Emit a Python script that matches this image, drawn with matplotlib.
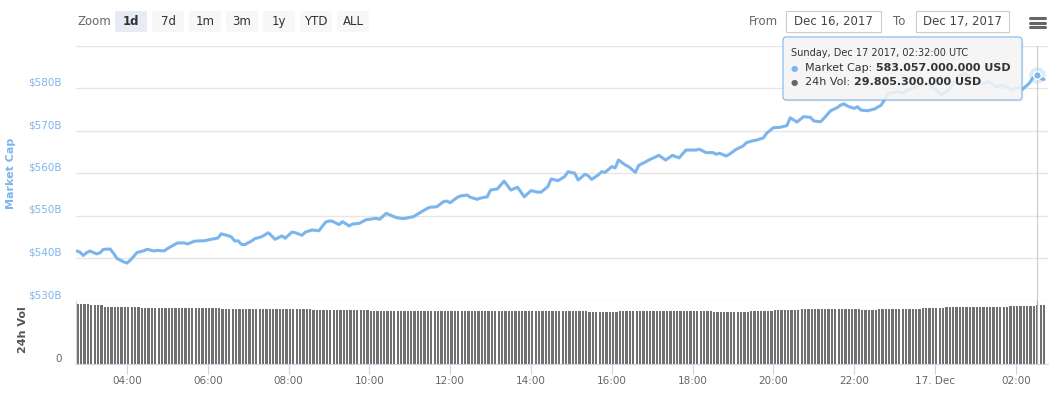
import matplotlib
matplotlib.use('Agg')
import pandas as pd
import matplotlib.pyplot as plt
import matplotlib.dates as mdates
from matplotlib.patches import FancyBboxPatch
from matplotlib.lines import Line2D
from matplotlib.transforms import ScaledTranslation, blended_transform_factory

# market cap, billions USD (times are UTC, 16 -> 17 Dec 2017)
mcap_time = ['02:45', '02:50', '02:55', '03:00', '03:05', '03:15', '03:20', '03:25', '03:35', '03:40',
             '03:45', '03:55', '04:00', '04:05', '04:15', '04:25', '04:30', '04:40', '04:45', '04:55',
             '05:00', '05:15', '05:25', '05:30', '05:40', '05:50', '05:55', '06:05', '06:15', '06:20',
             '06:30', '06:35', '06:40', '06:45', '06:50', '06:55', '07:05', '07:10', '07:20', '07:30',
             '07:40', '07:50', '07:55', '08:05', '08:10', '08:20', '08:25', '08:35', '08:45', '08:55',
             '09:00', '09:05', '09:15', '09:20', '09:30', '09:35', '09:45', '09:55', '10:00', '10:10',
             '10:15', '10:25', '10:40', '10:50', '10:55', '11:05', '11:15', '11:25', '11:30', '11:40',
             '11:50', '11:55', '12:00', '12:10', '12:15', '12:25', '12:30', '12:40', '12:45', '12:55',
             '13:00', '13:10', '13:20', '13:30', '13:40', '13:50', '14:00', '14:10', '14:15', '14:25',
             '14:30', '14:40', '14:50', '14:55', '15:05', '15:10', '15:15', '15:20', '15:25', '15:30',
             '15:40', '15:45', '15:50', '16:00', '16:05', '16:10', '16:20', '16:25', '16:35', '16:40',
             '16:50', '16:55', '17:10', '17:20', '17:30', '17:40', '17:50', '18:05', '18:10', '18:20',
             '18:30', '18:35', '18:40', '18:50', '18:55', '19:05', '19:15', '19:20', '19:30', '19:35',
             '19:45', '19:50', '20:00', '20:10', '20:20', '20:25', '20:35', '20:45', '20:55', '21:00',
             '21:10', '21:15', '21:25', '21:35', '21:40', '21:45', '21:50', '22:00', '22:05', '22:10',
             '22:20', '22:30', '22:40', '22:45', '22:50', '23:05', '23:10', '23:20', '23:35', '23:50',
             '00:00', '00:10', '00:20', '00:35', '00:45', '00:50', '01:00', '01:10', '01:20', '01:30',
             '01:40', '01:55', '02:05', '02:10', '02:20', '02:25', '02:32', '02:37', '02:42']
mcap_bn = [541.65, 541.4, 540.6, 541.25, 541.65, 540.95, 541.25, 542.05, 542.1, 541.1,
           539.9, 539.1, 538.8, 539.5, 541.3, 541.7, 542.05, 541.65, 541.8, 541.65,
           542.2, 543.55, 543.55, 543.3, 543.95, 544.05, 544.05, 544.4, 544.7, 545.7,
           545.25, 544.95, 544.0, 544.05, 543.2, 543.15, 544.0, 544.55, 545.0, 545.95,
           544.4, 545.2, 544.65, 546.1, 545.95, 545.35, 546.1, 546.6, 546.4, 548.45,
           548.7, 548.65, 547.85, 548.55, 547.55, 548.0, 548.15, 549.0, 549.1, 549.35,
           549.1, 550.5, 549.5, 549.25, 549.4, 549.7, 550.65, 551.6, 551.95, 552.05,
           553.25, 553.4, 553.0, 554.2, 554.6, 554.8, 554.3, 553.8, 554.1, 554.4,
           556.0, 556.25, 558.1, 556.0, 556.65, 554.4, 555.85, 555.5, 555.5, 556.8,
           558.6, 558.2, 559.15, 560.3, 559.95, 558.35, 559.0, 559.7, 559.35, 558.5,
           559.55, 560.3, 560.15, 561.5, 561.2, 563.05, 561.9, 561.5, 560.15, 561.8,
           562.6, 563.05, 564.15, 563.05, 564.15, 563.55, 565.4, 565.4, 565.6, 564.8,
           564.8, 564.4, 564.65, 564.0, 564.45, 565.6, 566.35, 567.15, 567.6, 567.75,
           568.25, 569.35, 570.65, 570.75, 571.15, 573.0, 572.0, 573.25, 573.1, 572.25,
           572.05, 572.85, 574.65, 575.4, 576.0, 576.25, 575.75, 575.2, 575.6, 574.8,
           574.65, 575.05, 575.95, 577.2, 578.75, 579.15, 578.75, 579.55, 580.7, 581.1,
           579.7, 578.35, 579.55, 582.8, 583.45, 582.65, 581.25, 580.95, 581.5, 580.3,
           580.7, 579.55, 580.15, 579.7, 581.1, 582.3, 583.057, 582.2, 582.0]

# 24h volume, billions USD, one bar every 5 minutes from 02:47
vol_start = '2017-12-16 02:47'
vol_bn = [
    30.3, 30.3, 30.3, 30.3, 29.8, 29.8, 29.8, 29.8, 29.0, 29.0, 29.0, 29.0,
    29.0, 29.0, 29.0, 29.0, 29.0, 29.0, 29.0, 28.4, 28.4, 28.4, 28.4, 28.4,
    28.4, 28.4, 28.4, 28.4, 28.4, 28.4, 28.4, 28.4, 28.4, 28.4, 28.4, 28.4,
    28.4, 28.4, 28.4, 28.4, 28.4, 28.4, 28.4, 27.8, 27.8, 27.8, 27.8, 27.8,
    27.8, 27.8, 27.8, 27.8, 27.8, 27.8, 27.8, 27.8, 27.8, 27.8, 27.8, 27.8,
    27.8, 27.8, 27.8, 27.8, 27.8, 27.8, 27.8, 27.8, 27.8, 27.8, 27.3, 27.3,
    27.3, 27.3, 27.3, 27.3, 27.3, 27.3, 27.3, 27.3, 27.3, 27.3, 27.3, 27.3,
    27.3, 27.3, 27.3, 26.9, 26.9, 26.9, 26.9, 26.9, 26.9, 26.9, 26.9, 26.9,
    26.9, 26.9, 26.9, 26.9, 26.9, 26.9, 26.9, 26.9, 26.9, 26.9, 26.9, 26.9,
    26.9, 26.9, 26.9, 26.9, 26.9, 26.6, 26.6, 26.6, 26.6, 26.6, 26.6, 26.6,
    26.6, 26.6, 26.6, 26.6, 26.6, 26.6, 26.6, 26.6, 26.6, 26.6, 26.6, 26.6,
    26.6, 26.6, 26.6, 26.6, 26.6, 26.6, 26.6, 26.6, 26.6, 26.6, 26.6, 26.6,
    26.6, 26.6, 26.6, 26.6, 26.6, 26.6, 26.6, 26.6, 26.3, 26.3, 26.3, 26.3,
    26.3, 26.3, 26.3, 26.3, 26.3, 26.6, 26.6, 26.6, 26.6, 26.6, 26.6, 26.6,
    26.6, 26.6, 26.6, 26.6, 26.6, 26.6, 26.6, 26.6, 26.6, 26.6, 26.6, 26.6,
    26.6, 26.6, 26.6, 26.6, 26.6, 26.6, 26.6, 26.6, 26.6, 26.4, 26.4, 26.4,
    26.4, 26.4, 26.4, 26.4, 26.4, 26.4, 26.4, 26.4, 26.7, 26.7, 26.7, 26.7,
    26.7, 26.7, 26.7, 27.2, 27.2, 27.2, 27.2, 27.2, 27.2, 27.2, 27.2, 27.8,
    27.8, 27.8, 27.8, 27.8, 27.8, 27.8, 27.8, 27.8, 27.8, 27.8, 27.8, 27.8,
    27.8, 27.8, 27.8, 27.8, 27.8, 27.3, 27.3, 27.3, 27.3, 27.3, 27.8, 27.8,
    27.8, 27.8, 27.8, 27.8, 27.8, 27.8, 27.8, 27.8, 27.8, 27.8, 27.8, 28.3,
    28.3, 28.3, 28.3, 28.3, 28.3, 28.3, 28.8, 28.8, 28.8, 28.8, 28.8, 28.8,
    28.8, 28.8, 28.8, 28.8, 28.8, 28.8, 28.8, 28.8, 28.8, 28.8, 28.8, 28.8,
    28.8, 29.5, 29.5, 29.5, 29.5, 29.5, 29.5, 29.5, 29.5, 29.8, 29.8, 29.8,
]

hover_time = '2017-12-17 02:32'
hover_cap = '583.057.000.000 USD'
hover_vol = '29.805.300.000 USD'
hover_header = 'Sunday, Dec 17 2017, 02:32:00 UTC'

cap_ticks = [530, 540, 550, 560, 570, 580]
cap_grid = [530, 540, 550, 560, 570, 580, 590]
zoom_buttons = ['1d', '7d', '1m', '3m', '1y', 'YTD', 'ALL']
date_from, date_to = 'Dec 16, 2017', 'Dec 17, 2017'

BLUE = '#7cb5ec'
GREY = '#666666'


def to_datetimes(hhmm, day='2017-12-16'):
    out = []
    d = pd.Timestamp(day)
    prev = None
    for s in hhmm:
        t = d + pd.Timedelta(s + ':00')
        if prev is not None and t < prev:
            d = d + pd.Timedelta(days=1)
            t = t + pd.Timedelta(days=1)
        out.append(t)
        prev = t
    return out


mcap_dt = to_datetimes(mcap_time)
vol_dt = pd.date_range(vol_start, periods=len(vol_bn), freq='5min')
hover_dt = pd.Timestamp(hover_time)

W, H = 1054, 404
fig = plt.figure(figsize=(W / 100, H / 100), dpi=100)
fig.patch.set_facecolor('white')


def inch(x, y):
    # pixel position (from top-left) -> inches for dpi_scale_trans
    return x / 100, (H - y) / 100


L, R = 76, 1048
ax = fig.add_axes([L / W, 1 - 300.5 / H, (R - L) / W, (300.5 - 45.5) / H])
axv = fig.add_axes([L / W, 1 - 364 / H, (R - L) / W, (364 - 300.5) / H])

xlim = (pd.Timestamp('2017-12-16 02:44:15'), pd.Timestamp('2017-12-17 02:47:50'))

# ---- market cap pane
ax.set_xlim(xlim)
ax.set_ylim(530, 590)
for s in ax.spines.values():
    s.set_visible(False)
ax.set_xticks([])
ax.set_yticks([])
for g in cap_grid:
    ax.axhline(g, color='#e6e6e6', lw=1.0, zorder=0)
ax.plot(mcap_dt, mcap_bn, color=BLUE, lw=2.2, solid_joinstyle='round', solid_capstyle='round', zorder=3)

lab_tr = blended_transform_factory(ax.transAxes, ax.transData) + \
    ScaledTranslation(-0.14, 0.055, fig.dpi_scale_trans)
for v in cap_ticks:
    ax.text(0, v, '$%dB' % v, transform=lab_tr, ha='right', va='center', color=BLUE, fontsize=7.5)

ax.axvline(hover_dt, color='#cccccc', lw=0.8, zorder=2)
ax.plot([hover_dt], [583.057], 'o', ms=12, color=BLUE, alpha=0.25, mec='none', zorder=4, clip_on=False)
ax.plot([hover_dt], [583.057], 'o', ms=5.5, mfc=BLUE, mec='white', mew=1, zorder=5, clip_on=False)

# ---- volume pane
axv.bar(vol_dt, vol_bn, width=(5 / 1440) * 0.68, color='#707070', align='center',
        antialiased=False, zorder=2)
axv.set_xlim(xlim)
axv.set_ylim(0, 32.1)
axv.set_yticks([])
for k in ['top', 'right']:
    axv.spines[k].set_visible(False)
for k in ['left', 'bottom']:
    axv.spines[k].set_color('#ccd6eb')
    axv.spines[k].set_linewidth(0.8)
axv.axvline(hover_dt, color='#aaaaaa', lw=0.8, zorder=3)
axv.text(0, 0, '0', transform=blended_transform_factory(axv.transAxes, axv.transData) +
         ScaledTranslation(-0.14, 0.055, fig.dpi_scale_trans),
         ha='right', va='center', color=GREY, fontsize=7.5)

axv.xaxis.set_major_locator(mdates.HourLocator(byhour=range(0, 24, 2)))


def fmt_time(x, pos):
    d = mdates.num2date(x)
    if d.hour == 0:
        return d.strftime('%d. %b').lstrip('0')
    return d.strftime('%H:%M')


axv.xaxis.set_major_formatter(plt.FuncFormatter(fmt_time))
axv.tick_params(axis='x', colors='#ccd6eb', length=7, width=0.8, labelsize=7.5,
                labelcolor=GREY, pad=2)

# axis titles
fig.text(11 / W, 1 - 173 / H, 'Market Cap', rotation=90, ha='center', va='center',
         color=BLUE, fontsize=8, fontweight='bold')
fig.text(22.5 / W, 1 - 330 / H, '24h Vol', rotation=90, ha='center', va='center',
         color='#555555', fontsize=8, fontweight='bold')

# ---- range selector
tr = fig.dpi_scale_trans
fig.text(*inch(77, 21.5), 'Zoom', transform=tr, ha='left', va='center', color=GREY, fontsize=8.5)
for i, b in enumerate(zoom_buttons):
    x0 = 115 + i * 37
    sel = (i == 0)
    fig.add_artist(FancyBboxPatch(inch(x0, 32), 0.32, 0.21, transform=tr,
                                  boxstyle='round,pad=0,rounding_size=0.02',
                                  fc='#e6ebf5' if sel else '#f7f7f7', ec='none', zorder=1))
    fig.text(*inch(x0 + 16, 21.5), b, transform=tr, ha='center', va='center', color='#333333',
             fontsize=8.5, fontweight='bold' if sel else 'normal')

fig.text(*inch(749, 21.5), 'From', transform=tr, ha='left', va='center', color=GREY, fontsize=8.5)
fig.text(*inch(893, 21.5), 'To', transform=tr, ha='left', va='center', color=GREY, fontsize=8.5)
for x0, x1, txt in [(786, 881, date_from), (916, 1009, date_to)]:
    fig.add_artist(FancyBboxPatch(inch(x0, 32), (x1 - x0) / 100, 0.21, transform=tr,
                                  boxstyle='square,pad=0', fc='white', ec='#cccccc', lw=0.8, zorder=1))
    fig.text(*inch((x0 + x1) / 2, 21.5), txt, transform=tr, ha='center', va='center',
             color='#444444', fontsize=8.5)

for yy in [18, 22.5, 27]:
    fig.add_artist(Line2D([1030 / 100, 1045 / 100], [(H - yy) / 100] * 2, transform=tr,
                          color=GREY, lw=2.2, solid_capstyle='round'))

# ---- tooltip
fig.add_artist(FancyBboxPatch(inch(784.5, 101.5), 2.39, 0.63, transform=tr,
                              boxstyle='round,pad=0,rounding_size=0.03',
                              fc='black', ec='none', alpha=0.06, zorder=6))
fig.add_artist(FancyBboxPatch(inch(783, 100), 2.39, 0.63, transform=tr,
                              boxstyle='round,pad=0,rounding_size=0.03',
                              fc=(0.97, 0.97, 0.97, 0.85), ec=BLUE, lw=0.8, zorder=7))
fig.text(*inch(791, 53.5), hover_header, transform=tr, ha='left', va='center',
         color='#333333', fontsize=7, zorder=8)

renderer = fig.canvas.get_renderer()
for yy, dot, name, val in [(68.3, BLUE, 'Market Cap: ', hover_cap), (82, '#666666', '24h Vol: ', hover_vol)]:
    fig.text(*inch(791, yy), '\u25cf', transform=tr, ha='left', va='center', color=dot,
             fontsize=6, zorder=8)
    t = fig.text(*inch(805, yy), name, transform=tr, ha='left', va='center', color='#333333',
                 fontsize=8, zorder=8)
    bb = t.get_window_extent(renderer=renderer)
    fig.text(bb.x1 / fig.dpi, (H - yy) / 100, val, transform=tr, ha='left', va='center',
             color='#333333', fontsize=8, fontweight='bold', zorder=8)

fig.savefig('out.png', dpi=100, facecolor='white')
